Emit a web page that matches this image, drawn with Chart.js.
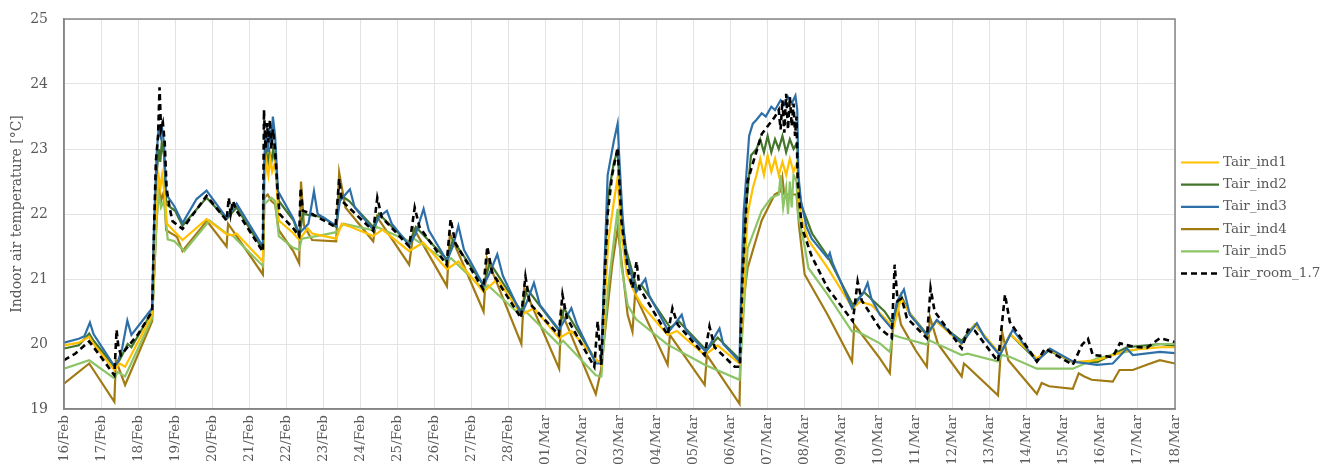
<!DOCTYPE html>
<html><head><meta charset="utf-8">
<script src="https://cdn.jsdelivr.net/npm/chart.js@4.4.1/dist/chart.umd.min.js"></script>
<style>html,body{margin:0;padding:0;background:#fff}</style>
</head><body>
<canvas id="c" width="1333" height="465"></canvas>
<script>
// x = days since 16/Feb 00:00
const dayLabels = ['16/Feb','17/Feb','18/Feb','19/Feb','20/Feb','21/Feb','22/Feb','23/Feb','24/Feb','25/Feb','26/Feb','27/Feb','28/Feb',
  '01/Mar','02/Mar','03/Mar','04/Mar','05/Mar','06/Mar','07/Mar','08/Mar','09/Mar','10/Mar','11/Mar','12/Mar','13/Mar','14/Mar','15/Mar','16/Mar','17/Mar','18/Mar'];
const yTicks = [19,20,21,22,23,24,25];
const seriesNames = ['Tair_ind1','Tair_ind2','Tair_ind3','Tair_ind4','Tair_ind5','Tair_room_1.7'];

const ind1 = [[0,19.98],[0.4,20.02],[0.68,20.11],[0.8,20.0],[1.36,19.6],[1.5,19.7],[1.65,19.65],[2.38,20.45],[2.43,21.3],[2.5,22.2],[2.56,22.56],[2.6,22.4],[2.65,22.6],[2.72,22.3],[2.78,21.85],[2.93,21.76],[3.2,21.6],[3.85,21.92],[4.39,21.69],[4.55,21.67],[4.66,21.7],[5.37,21.27],[5.42,22.5],[5.47,22.8],[5.52,22.6],[5.57,22.85],[5.62,22.65],[5.7,22.8],[5.8,21.9],[6.2,21.7],[6.35,21.6],[6.58,21.78],[6.7,21.7],[7.35,21.62],[7.5,21.85],[7.7,21.81],[8.35,21.66],[8.6,21.76],[9.32,21.43],[9.7,21.56],[10.34,21.15],[10.65,21.27],[11.33,20.8],[11.7,21.0],[12.35,20.45],[12.69,20.55],[13.37,20.09],[13.7,20.2],[14.36,19.77],[14.51,19.68],[14.6,20.6],[14.7,21.6],[14.85,22.2],[14.95,22.56],[15.05,21.7],[15.2,21.07],[15.4,20.8],[15.6,20.6],[16.3,20.14],[16.55,20.2],[17.3,19.83],[17.65,19.98],[18.24,19.7],[18.3,20.3],[18.46,22.0],[18.6,22.4],[18.7,22.6],[18.8,22.85],[18.9,22.6],[19.0,22.9],[19.1,22.65],[19.2,22.85],[19.3,22.6],[19.4,22.8],[19.5,22.6],[19.6,22.85],[19.7,22.65],[19.8,22.8],[19.83,22.3],[19.9,21.95],[20.1,21.6],[20.62,21.17],[21.3,20.55],[21.5,20.65],[21.8,20.6],[22.16,20.4],[22.4,20.25],[22.6,20.7],[22.8,20.5],[23.3,20.12],[23.55,20.35],[24.24,20.0],[24.6,20.3],[25.27,19.85],[25.55,20.15],[26.27,19.78],[26.6,19.92],[27.24,19.72],[27.9,19.75],[28.7,19.9],[29.6,19.95],[30,19.95]];

const ind2 = [[0,19.93],[0.4,19.98],[0.68,20.16],[0.8,20.05],[1.36,19.65],[1.5,19.75],[1.72,20.0],[1.82,19.95],[2.38,20.5],[2.43,21.6],[2.5,22.6],[2.56,23.0],[2.6,22.8],[2.64,23.1],[2.7,22.9],[2.76,22.15],[3.0,22.05],[3.2,21.82],[3.85,22.25],[4.39,21.92],[4.66,22.1],[5.37,21.45],[5.41,22.7],[5.46,23.0],[5.5,22.75],[5.55,22.95],[5.6,22.8],[5.65,23.0],[5.7,22.8],[5.8,22.2],[6.2,21.9],[6.35,21.65],[6.45,22.0],[7.0,21.95],[7.35,21.8],[7.45,22.3],[7.7,22.2],[8.35,21.8],[8.5,22.0],[9.32,21.55],[9.5,21.8],[10.34,21.3],[10.5,21.6],[11.33,20.9],[11.5,21.25],[12.35,20.5],[12.5,20.85],[13.37,20.2],[13.5,20.55],[14.36,19.75],[14.51,19.72],[14.6,21.2],[14.7,22.3],[14.85,22.8],[14.95,22.97],[15.05,22.0],[15.18,21.45],[15.47,20.85],[15.6,20.9],[16.37,20.25],[16.6,20.35],[17.35,19.9],[17.65,20.1],[18.27,19.75],[18.3,20.5],[18.4,22.0],[18.55,22.9],[18.7,23.0],[18.8,23.15],[18.9,22.95],[19.0,23.2],[19.1,22.95],[19.2,23.15],[19.3,23.0],[19.4,23.2],[19.5,22.95],[19.6,23.15],[19.7,23.0],[19.8,23.1],[19.83,22.5],[19.9,22.15],[20.2,21.7],[20.62,21.35],[21.3,20.6],[21.6,20.8],[22.16,20.5],[22.4,20.3],[22.6,20.75],[22.8,20.5],[23.3,20.15],[23.55,20.35],[24.24,20.05],[24.6,20.3],[25.27,19.83],[25.55,20.15],[26.27,19.75],[26.6,19.9],[27.24,19.72],[27.9,19.72],[28.7,19.95],[29.6,20.0],[30,19.97]];

const ind3 = [[0,20.02],[0.4,20.08],[0.55,20.12],[0.7,20.33],[0.8,20.15],[1.36,19.66],[1.45,19.72],[1.57,19.93],[1.71,20.36],[1.82,20.14],[2.38,20.55],[2.43,21.8],[2.5,22.9],[2.55,23.3],[2.6,23.2],[2.64,23.35],[2.7,23.1],[2.76,22.3],[2.98,22.12],[3.2,21.86],[3.58,22.23],[3.85,22.36],[4.39,21.94],[4.66,22.16],[5.37,21.5],[5.41,22.9],[5.46,23.2],[5.5,22.95],[5.55,23.3],[5.6,23.1],[5.64,23.5],[5.7,23.2],[5.78,22.35],[6.19,21.93],[6.35,21.7],[6.6,21.85],[6.75,22.35],[6.85,22.0],[7.35,21.82],[7.45,22.2],[7.72,22.38],[7.85,22.1],[8.35,21.76],[8.5,21.95],[8.72,22.05],[8.85,21.85],[9.32,21.52],[9.5,21.7],[9.71,22.08],[9.85,21.75],[10.34,21.28],[10.5,21.5],[10.65,21.82],[10.8,21.45],[11.33,20.9],[11.5,21.1],[11.7,21.38],[11.85,21.05],[12.35,20.45],[12.5,20.65],[12.69,20.94],[12.85,20.6],[13.37,20.22],[13.5,20.35],[13.7,20.55],[13.85,20.3],[14.36,19.7],[14.51,19.7],[14.6,21.3],[14.68,22.6],[14.85,23.13],[14.95,23.39],[15.0,22.8],[15.08,22.0],[15.17,21.38],[15.45,20.8],[15.7,21.0],[15.8,20.75],[16.33,20.19],[16.68,20.45],[16.8,20.2],[17.33,19.88],[17.7,20.24],[17.8,20.0],[18.24,19.73],[18.27,20.5],[18.35,22.0],[18.5,23.2],[18.6,23.39],[18.7,23.45],[18.84,23.55],[18.95,23.5],[19.1,23.65],[19.2,23.6],[19.35,23.75],[19.45,23.68],[19.55,23.8],[19.65,23.7],[19.75,23.82],[19.8,23.6],[19.83,22.6],[19.9,22.2],[20.05,21.8],[20.19,21.62],[20.62,21.32],[20.68,21.4],[20.75,21.25],[21.28,20.55],[21.6,20.8],[21.7,20.94],[21.8,20.7],[22.03,20.45],[22.35,20.24],[22.49,20.65],[22.68,20.84],[22.84,20.45],[23.3,20.14],[23.57,20.37],[24.24,20.01],[24.65,20.32],[24.86,20.1],[25.27,19.83],[25.62,20.22],[26.27,19.73],[26.62,19.93],[27.24,19.73],[27.89,19.68],[28.32,19.7],[28.7,19.93],[28.86,19.83],[29.59,19.88],[30,19.86]];

const ind4 = [[0,19.39],[0.68,19.7],[1.36,19.11],[1.4,19.75],[1.65,19.37],[2.38,20.35],[2.43,21.0],[2.5,21.9],[2.56,22.5],[2.62,22.2],[2.7,22.35],[2.76,21.75],[2.93,21.69],[3.05,21.65],[3.2,21.43],[3.7,21.78],[3.85,21.9],[4.39,21.5],[4.43,21.85],[5.37,21.07],[5.41,22.25],[5.5,22.3],[5.6,22.2],[5.7,22.15],[5.8,21.75],[6.19,21.43],[6.35,21.24],[6.4,22.5],[6.48,21.82],[6.7,21.6],[7.35,21.58],[7.43,22.64],[7.6,22.1],[8.35,21.58],[8.45,21.96],[9.32,21.22],[9.45,21.77],[10.34,20.89],[10.42,21.7],[11.33,20.5],[11.42,21.32],[12.35,20.0],[12.43,20.86],[13.37,19.62],[13.43,20.5],[14.36,19.23],[14.5,19.6],[14.65,20.4],[14.8,21.2],[14.95,21.78],[15.05,21.3],[15.22,20.45],[15.35,20.19],[15.42,20.76],[16.3,19.68],[16.36,20.14],[17.3,19.37],[17.36,19.83],[18.24,19.08],[18.3,20.45],[18.46,21.17],[18.84,21.9],[19.19,22.3],[19.35,22.35],[19.4,22.55],[19.45,22.3],[19.78,22.3],[19.85,21.8],[20.0,21.07],[20.62,20.45],[21.28,19.73],[21.34,20.3],[22.03,19.78],[22.3,19.55],[22.4,20.4],[22.5,20.6],[22.6,20.3],[23.0,19.9],[23.3,19.65],[23.38,20.42],[23.6,20.0],[24.24,19.5],[24.3,19.7],[24.4,19.65],[25.22,19.21],[25.33,20.19],[25.5,19.75],[26.27,19.23],[26.4,19.4],[26.6,19.35],[27.24,19.31],[27.4,19.55],[27.55,19.5],[27.75,19.45],[28.32,19.42],[28.5,19.6],[28.86,19.6],[29.24,19.68],[29.59,19.75],[30,19.7]];

const ind5 = [[0,19.62],[0.68,19.75],[1.36,19.47],[1.45,19.57],[1.65,19.5],[2.38,20.4],[2.43,21.0],[2.5,21.9],[2.56,22.3],[2.62,22.1],[2.7,22.2],[2.8,21.61],[2.98,21.58],[3.25,21.43],[3.93,21.9],[4.39,21.7],[4.55,21.67],[5.37,21.2],[5.41,22.15],[5.5,22.2],[5.6,22.25],[5.7,22.2],[5.8,21.66],[6.19,21.48],[6.35,21.45],[6.42,21.62],[7.0,21.68],[7.35,21.72],[7.55,21.85],[8.35,21.75],[8.45,21.8],[9.32,21.58],[9.45,21.62],[10.34,21.27],[10.45,21.32],[11.33,20.84],[11.45,20.9],[12.35,20.43],[12.47,20.5],[13.37,19.99],[13.48,20.05],[14.36,19.52],[14.51,19.5],[14.6,20.2],[14.7,20.9],[14.85,21.6],[14.95,22.08],[15.05,21.2],[15.22,20.6],[15.45,20.38],[16.3,19.99],[17.3,19.68],[18.24,19.45],[18.3,20.0],[18.46,21.47],[18.84,22.05],[19.1,22.25],[19.3,22.3],[19.35,22.6],[19.42,22.1],[19.5,22.4],[19.55,22.0],[19.6,22.5],[19.65,22.1],[19.7,22.6],[19.78,22.5],[19.82,22.0],[20.0,21.5],[20.1,21.17],[20.62,20.76],[21.28,20.19],[21.4,20.2],[22.03,20.01],[22.3,19.88],[22.38,20.14],[22.6,20.1],[23.3,19.99],[23.35,20.06],[24.24,19.83],[24.4,19.85],[25.22,19.73],[25.33,19.83],[25.55,19.8],[26.27,19.62],[27.24,19.62],[27.9,19.78],[28.7,19.88],[29.6,20.0],[30,20.0]];

const room = [[0,19.75],[0.3,19.85],[0.68,20.04],[1.0,19.8],[1.36,19.52],[1.42,20.22],[1.47,19.95],[1.54,19.83],[2.0,20.15],[2.38,20.5],[2.42,21.5],[2.48,22.8],[2.54,23.2],[2.58,23.95],[2.62,23.3],[2.67,23.4],[2.72,23.1],[2.77,22.4],[2.85,22.1],[2.93,21.89],[3.2,21.77],[3.85,22.28],[4.39,21.9],[4.45,22.25],[4.5,22.0],[4.56,22.2],[4.66,22.05],[5.37,21.42],[5.4,23.6],[5.44,23.0],[5.48,23.4],[5.52,23.1],[5.56,23.45],[5.6,23.0],[5.64,23.3],[5.7,23.0],[5.76,22.4],[5.82,22.0],[6.19,21.78],[6.35,21.66],[6.39,22.4],[6.45,22.05],[6.7,22.0],[7.33,21.8],[7.43,22.54],[7.5,22.2],[7.6,22.15],[8.35,21.74],[8.46,22.25],[8.58,21.95],[9.32,21.5],[9.47,22.1],[9.6,21.8],[10.33,21.22],[10.44,21.92],[10.57,21.55],[11.32,20.84],[11.43,21.5],[11.56,21.1],[12.34,20.4],[12.46,21.04],[12.58,20.62],[13.36,20.14],[13.46,20.76],[13.58,20.4],[14.32,19.65],[14.41,20.35],[14.51,19.68],[14.6,21.0],[14.68,22.0],[14.8,22.6],[14.95,23.02],[15.05,21.9],[15.22,21.17],[15.35,20.86],[15.46,21.27],[15.54,20.86],[16.3,20.14],[16.43,20.55],[16.57,20.3],[17.3,19.83],[17.43,20.27],[17.57,19.95],[18.11,19.65],[18.25,19.65],[18.32,21.0],[18.46,22.51],[18.84,23.23],[19.19,23.49],[19.3,23.6],[19.35,23.3],[19.4,23.75],[19.45,23.25],[19.5,23.85],[19.55,23.3],[19.6,23.8],[19.65,23.35],[19.7,23.7],[19.74,23.2],[19.78,23.5],[19.81,22.5],[19.92,21.8],[20.19,21.35],[20.62,20.86],[21.3,20.35],[21.43,20.96],[21.54,20.67],[22.03,20.24],[22.35,20.09],[22.43,21.22],[22.51,20.66],[22.62,20.7],[22.76,20.4],[23.3,20.09],[23.4,20.86],[23.51,20.5],[24.24,19.93],[24.41,20.22],[24.6,20.2],[25.22,19.73],[25.41,20.76],[25.54,20.34],[26.27,19.73],[26.49,19.93],[27.24,19.68],[27.49,19.99],[27.65,20.08],[27.78,19.83],[28.32,19.8],[28.51,20.01],[28.86,19.96],[29.24,19.94],[29.59,20.09],[30,20.03]];

const seriesData = [ind1, ind2, ind3, ind4, ind5, room];
const colors = ['#FFC000','#43752A','#2E6FA8','#A17A14','#8CC466','#000000'];
const drawOrder = [2,4,1,5,3,0];
const gray = '#595959';
const serif = "'DejaVu Serif', serif";

const frame = {
  id: 'frame',
  afterDatasetsDraw(chart) {
    const {ctx, chartArea: a} = chart;
    ctx.save();
    ctx.strokeStyle = '#858585';
    ctx.lineWidth = 1.5;
    ctx.strokeRect(a.left, a.top, a.right - a.left, a.bottom - a.top);
    ctx.restore();
  }
};

// legend drawn beside the plot, one row per dataset
const sideLegend = {
  id: 'sideLegend',
  afterDraw(chart) {
    const {ctx, chartArea: a} = chart;
    const x0 = a.right + 6, len = 38, rowH = 22.2;
    const n = chart.data.datasets.length;
    const yc = (a.top + a.bottom) / 2 + 4;
    const y0 = yc - (n - 1) * rowH / 2;
    ctx.save();
    chart.data.datasets.forEach((ds, i) => {
      const y = y0 + i * rowH;
      ctx.strokeStyle = ds.borderColor;
      ctx.lineWidth = ds.borderWidth;
      ctx.setLineDash(ds.borderDash || []);
      ctx.beginPath();
      ctx.moveTo(x0, y);
      ctx.lineTo(x0 + len, y);
      ctx.stroke();
      ctx.setLineDash([]);
      ctx.fillStyle = gray;
      ctx.font = "13.5px 'DejaVu Serif', serif";
      ctx.textBaseline = 'middle';
      ctx.textAlign = 'left';
      ctx.fillText(ds.label, x0 + len + 4, y);
    });
    ctx.restore();
  }
};

new Chart(document.getElementById('c'), {
  type: 'line',
  data: {
    datasets: seriesNames.map((name, i) => ({
      label: name,
      data: seriesData[i].map(p => ({x: p[0], y: p[1]})),
      borderColor: colors[i],
      backgroundColor: colors[i],
      borderWidth: i === 5 ? 2.6 : 2.2,
      borderDash: i === 5 ? [6, 4] : [],
      pointRadius: 0,
      tension: 0,
      fill: false,
      order: drawOrder[i]
    }))
  },
  options: {
    responsive: false,
    animation: false,
    devicePixelRatio: 1,
    layout: {padding: {left: 0, right: 158, top: 19, bottom: 0}},
    plugins: {
      tooltip: {enabled: false},
      legend: {display: false}
    },
    scales: {
      x: {
        type: 'linear',
        min: 0, max: 30,
        afterFit: s => { s.height = 56; },
        afterBuildTicks: s => { s.ticks = dayLabels.map((_, i) => ({value: i})); },
        ticks: {
          autoSkip: false,
          maxRotation: 90, minRotation: 90,
          padding: 6,
          color: gray,
          font: {family: serif, size: 13.5},
          callback: v => dayLabels[v]
        },
        grid: {color: '#e3e3e3', drawTicks: false},
        border: {display: true, color: '#858585', width: 1.5}
      },
      y: {
        min: 19, max: 25,
        afterFit: s => { s.width = 64; s.paddingTop = 0; s.paddingBottom = 0; },
        afterBuildTicks: s => { s.ticks = yTicks.map(v => ({value: v})); },
        ticks: {
          padding: 16,
          color: gray,
          font: {family: serif, size: 14}
        },
        grid: {color: '#e3e3e3', drawTicks: false},
        border: {display: true, color: '#858585', width: 1.5},
        title: {
          display: true,
          text: 'Indoor air temperature [°C]',
          color: gray,
          font: {family: serif, size: 14},
          padding: {top: 9, bottom: 0}
        }
      }
    }
  },
  plugins: [frame, sideLegend]
});
</script>
</body></html>
